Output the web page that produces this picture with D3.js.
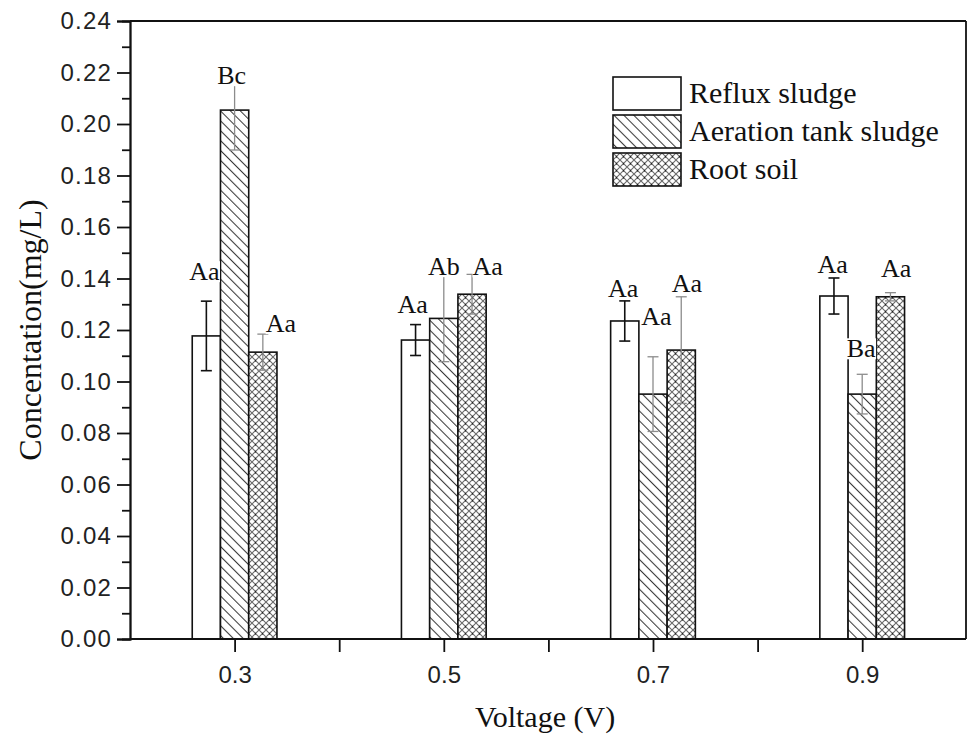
<!DOCTYPE html>
<html>
<head>
<meta charset="utf-8">
<script src="https://cdn.jsdelivr.net/npm/d3@7/dist/d3.min.js"></script>
<style>
  html, body { margin: 0; padding: 0; background: #fff; }
  svg { display: block; }
</style>
</head>
<body>
<svg id="chart" width="969" height="734"></svg>
<script>
// Voltage levels (x positions of the bar groups)
const voltages = [0.3, 0.5, 0.7, 0.9];
const voltageLabels = ["0.3", "0.5", "0.7", "0.9"];

// Series names
const seriesNames = ["Reflux sludge", "Aeration tank sludge", "Root soil"];

// Mean concentrations (mg/L)
const refluxValues   = [0.1177, 0.1161, 0.1235, 0.1332];
const aerationValues = [0.2054, 0.1245, 0.0951, 0.0951];
const rootValues     = [0.1114, 0.1339, 0.1122, 0.1329];

// Standard deviations (mg/L)
const refluxErrors   = [0.0135, 0.0060, 0.0078, 0.0070];
const aerationErrors = [0.0155, 0.0168, 0.0145, 0.0077];
const rootErrors     = [0.0070, 0.0077, 0.0207, 0.0016];

// Significance letters
const refluxLetters   = ["Aa", "Aa", "Aa", "Aa"];
const aerationLetters = ["Bc", "Ab", "Aa", "Ba"];
const rootLetters     = ["Aa", "Aa", "Aa", "Aa"];

// Y-axis tick labels
const yTickValues = [0.00, 0.02, 0.04, 0.06, 0.08, 0.10, 0.12, 0.14, 0.16, 0.18, 0.20, 0.22, 0.24];

const series = [
  { name: seriesNames[0], values: refluxValues,   errors: refluxErrors,   letters: refluxLetters },
  { name: seriesNames[1], values: aerationValues, errors: aerationErrors, letters: aerationLetters },
  { name: seriesNames[2], values: rootValues,     errors: rootErrors,     letters: rootLetters }
];

const svg = d3.select("#chart");
const plot = { left: 130, right: 966, top: 21, bottom: 639 };

const x = d3.scaleLinear().domain([0.2, 1.0]).range([plot.left, plot.left + 8 * 104.6]);
const y = d3.scaleLinear().domain([0, 0.24]).range([plot.bottom, plot.top]);

const barW = 0.027; // bar width in voltage units
const serif = "'Liberation Serif', 'Times New Roman', serif";
const sans = "'Liberation Sans', Arial, sans-serif";

// ---- fill patterns ----
const defs = svg.append("defs");
const hatch = defs.append("pattern")
  .attr("id", "hatch").attr("patternUnits", "userSpaceOnUse")
  .attr("width", 7).attr("height", 7)
  .attr("patternTransform", "rotate(-45)");
hatch.append("rect").attr("width", 7).attr("height", 7).attr("fill", "#fff");
hatch.append("line").attr("x1", 0.5).attr("y1", 0).attr("x2", 0.5).attr("y2", 7)
  .attr("stroke", "#3a3a3a").attr("stroke-width", 1.1);

const cross = defs.append("pattern")
  .attr("id", "cross").attr("patternUnits", "userSpaceOnUse")
  .attr("width", 7).attr("height", 7);
cross.append("rect").attr("width", 7).attr("height", 7).attr("fill", "#fff");
cross.append("path").attr("d", "M0,0L7,7M7,0L0,7M-1,6L1,8M6,-1L8,1")
  .attr("stroke", "#6a6a6a").attr("stroke-width", 1.1);
cross.append("circle").attr("cx", 3.5).attr("cy", 3.5).attr("r", 0.8).attr("fill", "#222");

const fills = ["#ffffff", "url(#hatch)", "url(#cross)"];

// ---- bars ----
const barLayer = svg.append("g");
series.forEach((s, si) => {
  const offset = (si - 1) * barW;
  barLayer.selectAll(null)
    .data(voltages.map((v, i) => ({ v, val: s.values[i] })))
    .join("rect")
    .attr("x", d => x(d.v + offset - barW / 2))
    .attr("width", x(barW) - x(0))
    .attr("y", d => y(d.val))
    .attr("height", d => y(0) - y(d.val))
    .attr("fill", fills[si])
    .attr("stroke", "#111")
    .attr("stroke-width", 1.6);
});

// ---- error bars ----
const errColors = ["#111", "#8c8c8c", "#8c8c8c"];
const errLayer = svg.append("g");
series.forEach((s, si) => {
  const offset = (si - 1) * barW;
  voltages.forEach((v, i) => {
    const cx = x(v + offset);
    const hi = y(s.values[i] + s.errors[i]);
    const lo = y(s.values[i] - s.errors[i]);
    const g = errLayer.append("g").attr("stroke", errColors[si]).attr("stroke-width", si === 0 ? 1.6 : 1.3);
    g.append("line").attr("x1", cx).attr("x2", cx).attr("y1", hi).attr("y2", lo);
    g.append("line").attr("x1", cx - 5.5).attr("x2", cx + 5.5).attr("y1", hi).attr("y2", hi);
    g.append("line").attr("x1", cx - 5.5).attr("x2", cx + 5.5).attr("y1", lo).attr("y2", lo);
  });
});

// ---- significance letters (nudged by hand around the error bars) ----
const letterNudge = [
  [[-2, -21], [-3, -12], [-1.5, -4], [-1.3, -5]],
  [[-3, 14], [0, 0], [3.5, -32], [-1, -17]],
  [[18, -2], [15.6, 1], [5.6, -5], [5.6, -16]]
];
const letterLayer = svg.append("g");
series.forEach((s, si) => {
  const offset = (si - 1) * barW;
  voltages.forEach((v, i) => {
    const [dx, dy] = letterNudge[si][i];
    const g = letterLayer.append("g");
    const t = g.append("text")
      .attr("x", x(v + offset) + dx)
      .attr("y", y(s.values[i] + s.errors[i]) + dy)
      .attr("text-anchor", "middle")
      .attr("font-family", serif)
      .attr("font-size", 26)
      .attr("fill", "#111")
      .text(s.letters[i]);
    const bb = t.node().getBBox();
    g.insert("rect", "text")
      .attr("x", bb.x).attr("y", bb.y + 4)
      .attr("width", bb.width).attr("height", bb.height - 8)
      .attr("fill", "#fff");
  });
});

// ---- frame ----
const frame = svg.append("g").attr("stroke", "#111").attr("stroke-width", 1.8).attr("fill", "none");
frame.append("line").attr("x1", plot.left).attr("x2", plot.right).attr("y1", plot.top).attr("y2", plot.top);
frame.append("line").attr("x1", plot.right).attr("x2", plot.right).attr("y1", plot.top).attr("y2", plot.bottom);

// ---- y axis ----
const yAxis = svg.append("g").attr("transform", `translate(${plot.left},0)`)
  .call(d3.axisLeft(y).tickValues(yTickValues).tickFormat(d3.format(".2f")).tickSize(13).tickPadding(5));
const yMinor = svg.append("g").attr("transform", `translate(${plot.left},0)`)
  .call(d3.axisLeft(y).tickValues(d3.range(0.01, 0.24, 0.02)).tickFormat("").tickSize(8));
[yAxis, yMinor].forEach(a => {
  a.select(".domain").attr("stroke", "#111").attr("stroke-width", 1.8);
  a.selectAll(".tick line").attr("stroke", "#111").attr("stroke-width", 1.8);
});
yAxis.selectAll(".tick text")
  .attr("font-family", sans)
  .attr("font-size", 24).attr("letter-spacing", 1.2).attr("fill", "#222");

// ---- x axis ----
const xAxis = svg.append("g").attr("transform", `translate(0,${plot.bottom})`)
  .call(d3.axisBottom(x).tickValues(voltages).tickFormat((d, i) => voltageLabels[i]).tickSize(13).tickPadding(14));
const xMinor = svg.append("g").attr("transform", `translate(0,${plot.bottom})`)
  .call(d3.axisBottom(x).tickValues([0.4, 0.6, 0.8]).tickFormat("").tickSize(13));
[xAxis, xMinor].forEach(a => {
  a.select(".domain").attr("stroke", "#111").attr("stroke-width", 1.8)
    .attr("d", `M${plot.left},0H${plot.right}`);
  a.selectAll(".tick line").attr("stroke", "#111").attr("stroke-width", 1.8);
});
xAxis.selectAll(".tick text")
  .attr("font-family", sans)
  .attr("font-size", 24).attr("fill", "#222");

// ---- axis titles ----
svg.append("text")
  .attr("transform", `translate(41,${(plot.top + plot.bottom) / 2}) rotate(-90)`)
  .attr("text-anchor", "middle")
  .attr("font-family", serif)
  .attr("font-size", 32).attr("fill", "#111")
  .text("Concentation(mg/L)");

svg.append("text")
  .attr("x", 545).attr("y", 727)
  .attr("text-anchor", "middle")
  .attr("font-family", serif)
  .attr("font-size", 30).attr("fill", "#111")
  .text("Voltage (V)");

// ---- legend ----
const legend = svg.append("g").attr("transform", "translate(613,77)");
seriesNames.forEach((name, i) => {
  const row = legend.append("g").attr("transform", `translate(0,${i * 38})`);
  row.append("rect").attr("width", 68).attr("height", 33)
    .attr("fill", fills[i]).attr("stroke", "#111").attr("stroke-width", 1.6);
  row.append("text").attr("x", 76).attr("y", 26)
    .attr("font-family", serif)
    .attr("font-size", 30).attr("fill", "#111")
    .text(name);
});
</script>
</body>
</html>
